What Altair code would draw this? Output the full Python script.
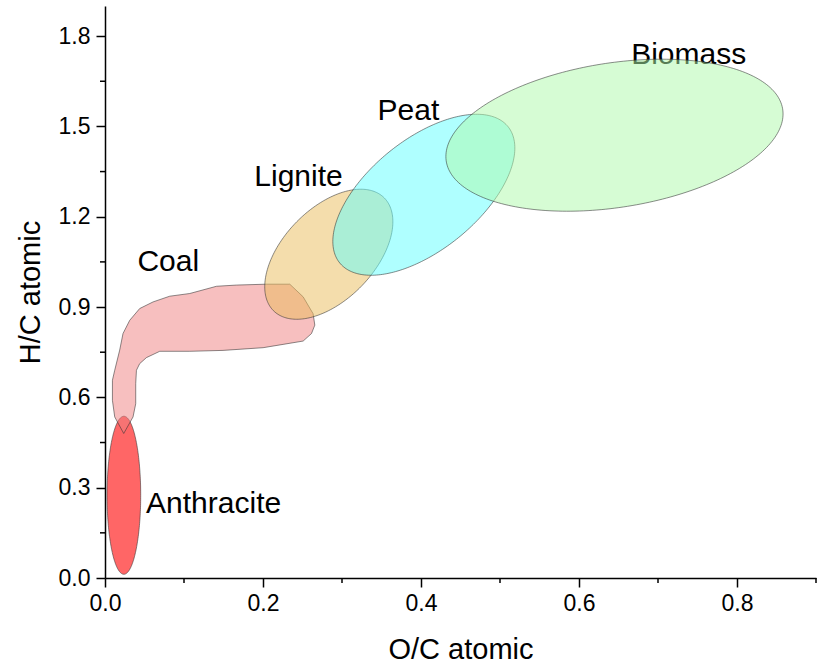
import numpy as np
import pandas as pd
import altair as alt

# ---- data ----
# ellipse regions: centre, half-extent in x / y, correlation (tilt)
ell_names = ["Anthracite", "Lignite", "Peat", "Biomass"]
ell_cx = [0.0239, 0.2833, 0.4036, 0.6449]
ell_cy = [0.2748, 1.0754, 1.2730, 1.4708]
ell_rx = [0.0213, 0.0811, 0.1152, 0.2134]
ell_ry = [0.2625, 0.2160, 0.2674, 0.2525]
ell_rho = [0.0, 0.50, 0.58, 0.28]
ell_fill = ["#FF0000", "#E9BB59", "#60FFFF", "#ADF9A9"]
ell_alpha = [0.6, 0.5, 0.5, 0.5]

# coal region outline (O/C, H/C)
coal_x = [0.0237, 0.0123, 0.0094, 0.0094, 0.0123, 0.0186, 0.0228, 0.0313, 0.0439,
          0.0608, 0.0819, 0.1073, 0.1411, 0.1664, 0.2044, 0.2339, 0.2508, 0.2634,
          0.2656, 0.2614, 0.2508, 0.2254, 0.2001, 0.1494, 0.1073, 0.0693, 0.0524,
          0.0439, 0.0398, 0.0389, 0.0389, 0.0355, 0.0237]
coal_y = [0.480, 0.535, 0.590, 0.657, 0.690, 0.757, 0.812, 0.856, 0.895,
          0.917, 0.936, 0.945, 0.969, 0.973, 0.976, 0.976, 0.934, 0.878,
          0.840, 0.812, 0.787, 0.776, 0.765, 0.756, 0.753, 0.753, 0.732,
          0.712, 0.690, 0.646, 0.579, 0.535, 0.480]

# labels
lab_text = ["Anthracite", "Coal", "Lignite", "Peat", "Biomass"]
lab_x = [0.052, 0.041, 0.189, 0.345, 0.666]
lab_y = [0.215, 1.020, 1.301, 1.520, 1.707]

x_major = [0.0, 0.2, 0.4, 0.6, 0.8]
x_minor = [0.1, 0.3, 0.5, 0.7, 0.9]
y_major = [0.0, 0.3, 0.6, 0.9, 1.2, 1.5, 1.8]
y_minor = [0.15, 0.45, 0.75, 1.05, 1.35, 1.65]

W, H = 711, 572
FONT = "Liberation Sans"

xs = alt.Scale(domain=[0, 0.9], nice=False, zero=False)
ys = alt.Scale(domain=[0, 1.9], nice=False, zero=False)

xax = alt.Axis(values=x_major, format=".1f", title="O/C atomic", grid=False,
               tickSize=9, tickWidth=1.5, domainWidth=1.5, domainColor="black",
               tickColor="black", labelColor="black", titleColor="black",
               labelFontSize=23, titleFontSize=29, labelFont=FONT, titleFont=FONT,
               titleFontWeight="normal", labelPadding=5, titlePadding=20,
               labelFlush=False)
yax = alt.Axis(values=y_major, format=".1f", title="H/C atomic", grid=False,
               tickSize=9, tickWidth=1.5, domainWidth=1.5, domainColor="black",
               tickColor="black", labelColor="black", titleColor="black",
               labelFontSize=23, titleFontSize=29, labelFont=FONT, titleFont=FONT,
               titleFontWeight="normal", labelPadding=6, titlePadding=13,
               labelFlush=False)

X = lambda: alt.X("x:Q", scale=xs, axis=xax)
Y = lambda: alt.Y("y:Q", scale=ys, axis=yax)


def ellipse_df(i):
    t = np.linspace(0, 2 * np.pi, 241)
    d = np.arccos(ell_rho[i])
    return pd.DataFrame({
        "x": ell_cx[i] + ell_rx[i] * np.cos(t),
        "y": ell_cy[i] + ell_ry[i] * np.cos(t + d),
        "i": np.arange(len(t)),
    })


def shape(df, fill, alpha):
    return alt.Chart(df).mark_line(
        fill=fill, fillOpacity=alpha, stroke="#333333", strokeWidth=0.8,
        strokeOpacity=0.7, interpolate="linear"
    ).encode(x=X(), y=Y(), order="i:Q")


labels_df = pd.DataFrame({"x": lab_x, "y": lab_y, "t": lab_text})
labels = alt.Chart(labels_df).mark_text(
    align="left", baseline="alphabetic", font=FONT, fontSize=30, color="black"
).encode(x=X(), y=Y(), text="t:N")

xminor = alt.Chart(pd.DataFrame({"x": x_minor})).mark_rule(color="black", strokeWidth=1.5).encode(
    x=X(), y=alt.value(H), y2=alt.value(H + 5))
yminor = alt.Chart(pd.DataFrame({"y": y_minor})).mark_rule(color="black", strokeWidth=1.5).encode(
    y=Y(), x=alt.value(0), x2=alt.value(-5))

coal_df = pd.DataFrame({"x": coal_x, "y": coal_y, "i": np.arange(len(coal_x))})

layers = [labels,
          shape(ellipse_df(0), ell_fill[0], ell_alpha[0]),
          shape(coal_df, "#F08080", 0.5),
          shape(ellipse_df(1), ell_fill[1], ell_alpha[1]),
          shape(ellipse_df(2), ell_fill[2], ell_alpha[2]),
          shape(ellipse_df(3), ell_fill[3], ell_alpha[3]),
          xminor, yminor]

chart = alt.layer(*layers).properties(
    width=W, height=H,
    background="white",
    autosize=alt.AutoSizeParams(type="none"),
    padding={"left": 105, "top": 6, "right": 5, "bottom": 88},
).configure_view(stroke=None)

chart.save("out.html", embed_options={"renderer": "svg", "actions": False})
